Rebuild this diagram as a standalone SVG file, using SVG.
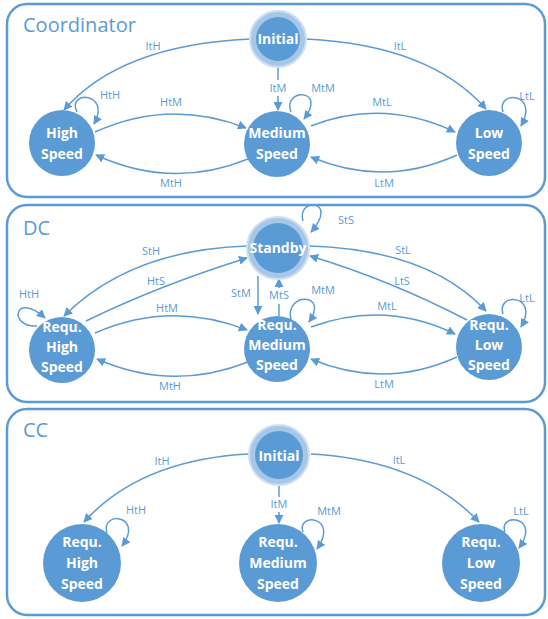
<svg xmlns="http://www.w3.org/2000/svg" width="548" height="619" viewBox="0 0 548 619">
<defs>
<marker id="ah" viewBox="0 0 10 10" refX="9" refY="5" markerWidth="9" markerHeight="9" markerUnits="userSpaceOnUse" orient="auto"><path d="M0,0 L10,5 L0,10 z" fill="#5b9bd5"/></marker>
<style>
.panel{fill:#fff;stroke:#5b9bd5;stroke-width:2.5}
.title{font-family:"Open Sans",sans-serif;font-size:20px;fill:#5b9bd5}
.node{fill:#5b9bd5}
.ring{fill:#a7c7e8;stroke:#cfe0f2;stroke-width:2}
.nt{font-family:"Open Sans",sans-serif;font-weight:bold;font-size:14px;fill:#fff;text-anchor:middle}
.e{fill:none;stroke:#5b9bd5;stroke-width:1.5}
.ea{fill:none;stroke:#5b9bd5;stroke-width:1.5;marker-end:url(#ah)}
.el{font-family:"Open Sans",sans-serif;font-size:11px;fill:#5b9bd5;text-anchor:middle}
</style>
</defs>
<rect width="548" height="619" fill="#fff"/>
<g id="panels">
<rect class="panel" x="7" y="4" width="538" height="193" rx="20"/>
<text class="title" x="23" y="32">Coordinator</text>
<rect class="panel" x="7" y="205" width="538" height="197" rx="20"/>
<text class="title" x="23" y="235">DC</text>
<rect class="panel" x="7" y="409" width="538" height="206" rx="20"/>
<text class="title" x="23" y="437">CC</text>
</g>
<g id="connectors">
<!-- Coordinator -->
<path class="ea" d="M250,39 Q120,45 64,110"/>
<path class="ea" d="M306,39 Q430,45 486,109"/>
<path class="e" d="M278,67 L278,80"/>
<path class="ea" d="M278,96 L278,110"/>
<path class="ea" d="M77,112 C66,90 112,92 94,124"/>
<path class="ea" d="M95,132 Q170,98 246,128"/>
<path class="ea" d="M248,159 Q172,190 96,155"/>
<path class="ea" d="M291,112 C282,88 328,88 304,119"/>
<path class="ea" d="M311,126 Q383,98 455,132"/>
<path class="ea" d="M457,155 Q384,188 311,157"/>
<path class="ea" d="M503,112 C496,90 540,92 521,126"/>
<text class="el" x="153" y="50">ItH</text>
<text class="el" x="400" y="50">ItL</text>
<text class="el" x="278" y="92">ItM</text>
<text class="el" x="110" y="99">HtH</text>
<text class="el" x="171" y="106">HtM</text>
<text class="el" x="171" y="187">MtH</text>
<text class="el" x="323" y="92">MtM</text>
<text class="el" x="382" y="106">MtL</text>
<text class="el" x="384" y="187">LtM</text>
<text class="el" x="527" y="100">LtL</text>
<!-- DC -->
<path class="ea" d="M303,221 C296,197 340,199 311,232"/>
<path class="ea" d="M247,246 Q130,250 64,316"/>
<path class="ea" d="M86,321 Q160,285 247,258"/>
<path class="ea" d="M95,333 Q170,300 247,330"/>
<path class="ea" d="M248,362 Q172,392 97,359"/>
<path class="ea" d="M37,326 C8,328 14,290 45,318"/>
<path class="ea" d="M258,276 L258,314"/>
<path class="e" d="M279,316 L279,304"/>
<path class="ea" d="M279,288 L279,279"/>
<path class="ea" d="M291,320 C284,292 330,292 309,322"/>
<path class="ea" d="M310,246 Q430,250 486,311"/>
<path class="ea" d="M467,320 Q390,280 310,256"/>
<path class="ea" d="M311,327 Q385,300 455,334"/>
<path class="ea" d="M457,357 Q384,390 311,359"/>
<path class="ea" d="M503,314 C496,292 540,294 521,327"/>
<text class="el" x="346" y="224">StS</text>
<text class="el" x="151" y="255">StH</text>
<text class="el" x="156" y="285">HtS</text>
<text class="el" x="167" y="312">HtM</text>
<text class="el" x="170" y="390">MtH</text>
<text class="el" x="29" y="298">HtH</text>
<text class="el" x="241" y="297">StM</text>
<text class="el" x="279" y="299">MtS</text>
<text class="el" x="323" y="294">MtM</text>
<text class="el" x="403" y="254">StL</text>
<text class="el" x="402" y="285">LtS</text>
<text class="el" x="387" y="310">MtL</text>
<text class="el" x="384" y="388">LtM</text>
<text class="el" x="527" y="302">LtL</text>
<!-- CC -->
<path class="ea" d="M248,454 Q140,460 84,522"/>
<path class="ea" d="M311,454 Q420,460 479,522"/>
<path class="e" d="M279,486 L279,497"/>
<path class="ea" d="M279,512 L279,523"/>
<path class="ea" d="M107,533 C100,510 145,515 122,546"/>
<path class="ea" d="M303,532 C296,512 340,516 317,549"/>
<path class="ea" d="M505,532 C498,512 542,516 519,548"/>
<text class="el" x="162" y="465">ItH</text>
<text class="el" x="399" y="464">ItL</text>
<text class="el" x="279" y="508">ItM</text>
<text class="el" x="136" y="514">HtH</text>
<text class="el" x="329" y="515">MtM</text>
<text class="el" x="521" y="515">LtL</text>
</g>
<g id="coord-initial"><circle class="ring" cx="278" cy="39" r="28"/><circle class="node" cx="278" cy="39" r="22"/><text class="nt" x="278" y="44">Initial</text></g>
<g id="coord-high"><circle class="node" cx="62" cy="143" r="33"/><text class="nt" x="62" y="138">High</text><text class="nt" x="62" y="159">Speed</text></g>
<g id="coord-medium"><circle class="node" cx="277" cy="144" r="33"/><text class="nt" x="277" y="138">Medium</text><text class="nt" x="277" y="159">Speed</text></g>
<g id="coord-low"><circle class="node" cx="489" cy="143" r="33"/><text class="nt" x="489" y="138">Low</text><text class="nt" x="489" y="159">Speed</text></g>
<g id="dc-standby"><circle class="ring" cx="278" cy="248" r="31"/><circle class="node" cx="278" cy="248" r="25"/><text class="nt" x="278" y="253" font-size="13.5">Standby</text></g>
<g id="dc-high"><circle class="node" cx="62" cy="350" r="33"/><text class="nt" x="62" y="332">Requ.</text><text class="nt" x="62" y="352">High</text><text class="nt" x="62" y="372">Speed</text></g>
<g id="dc-medium"><circle class="node" cx="277" cy="349" r="33"/><text class="nt" x="277" y="330">Requ.</text><text class="nt" x="277" y="350">Medium</text><text class="nt" x="277" y="370">Speed</text></g>
<g id="dc-low"><circle class="node" cx="489" cy="347" r="33"/><text class="nt" x="489" y="330">Requ.</text><text class="nt" x="489" y="350">Low</text><text class="nt" x="489" y="370">Speed</text></g>
<g id="cc-initial"><circle class="ring" cx="279" cy="455" r="30"/><circle class="node" cx="279" cy="455" r="24"/><text class="nt" x="279" y="461" font-size="16.5">Initial</text></g>
<g id="cc-high"><circle class="node" cx="82" cy="563" r="39"/><text class="nt" x="82" y="547">Requ.</text><text class="nt" x="82" y="568">High</text><text class="nt" x="82" y="589">Speed</text></g>
<g id="cc-medium"><circle class="node" cx="278" cy="563" r="39"/><text class="nt" x="278" y="547">Requ.</text><text class="nt" x="278" y="568">Medium</text><text class="nt" x="278" y="589">Speed</text></g>
<g id="cc-low"><circle class="node" cx="481" cy="563" r="39"/><text class="nt" x="481" y="547">Requ.</text><text class="nt" x="481" y="568">Low</text><text class="nt" x="481" y="589">Speed</text></g>
</svg>
